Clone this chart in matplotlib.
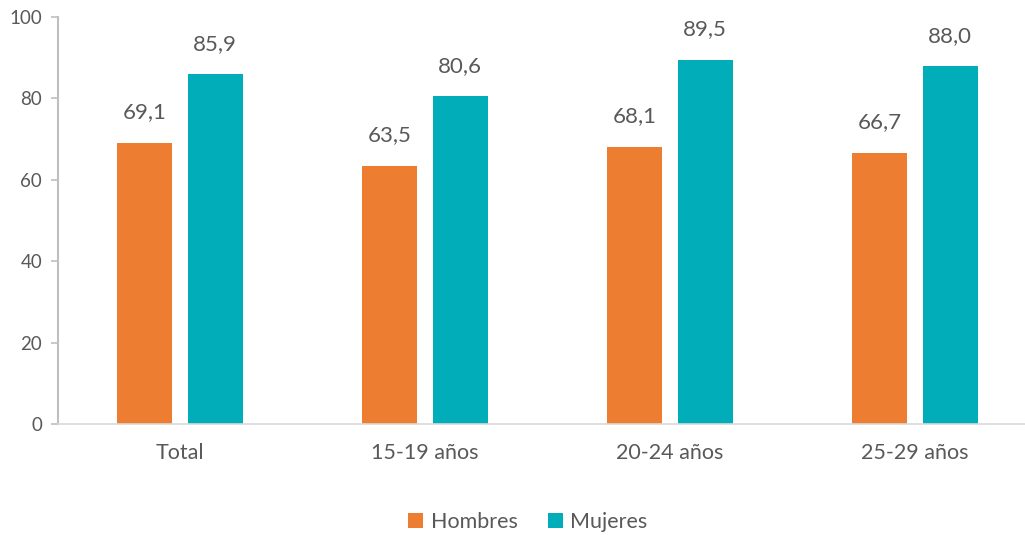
import matplotlib.pyplot as plt
import numpy as np

categories = ["Total", "15-19 años", "20-24 años", "25-29 años"]
hombres = [69.1, 63.5, 68.1, 66.7]
mujeres = [85.9, 80.6, 89.5, 88.0]

ORANGE = "#ED7D31"
TEAL = "#00ADB9"
TEXT = "#595959"
AXIS = "#BFBFBF"

plt.rcParams["font.family"] = ["Lato", "DejaVu Sans"]


def fmt(v):
    return f"{v:.1f}".replace(".", ",")


def main():
    fig = plt.figure(figsize=(10.25, 5.35), dpi=100)
    ax = fig.add_axes([0.0561, 0.2075, 0.956, 0.7605])

    x = np.arange(len(categories))
    w = 0.224
    off = 0.144
    b1 = ax.bar(x - off, hombres, w, color=ORANGE, label="Hombres")
    b2 = ax.bar(x + off, mujeres, w, color=TEAL, label="Mujeres")

    for bars, vals in ((b1, hombres), (b2, mujeres)):
        for rect, v in zip(bars, vals):
            ax.text(rect.get_x() + rect.get_width() / 2, v + 5.0, fmt(v),
                    ha="center", va="bottom", fontsize=16, color=TEXT)

    ax.set_xlim(-0.5, 3.5)
    ax.set_ylim(0, 100)
    ax.set_yticks(range(0, 101, 20))
    ax.set_xticks(x)
    ax.set_xticklabels(categories)
    ax.tick_params(axis="x", length=0, pad=14, labelsize=15.5, colors=TEXT)
    ax.tick_params(axis="y", length=5, width=1.2, color=AXIS, pad=6,
                   labelsize=13.5, labelcolor=TEXT)

    for s in ("top", "right"):
        ax.spines[s].set_visible(False)
    ax.spines["left"].set_color(AXIS)
    ax.spines["left"].set_linewidth(1.5)
    ax.spines["bottom"].set_color("#D9D9D9")
    ax.spines["bottom"].set_linewidth(1.2)

    leg = fig.legend(handles=[b1, b2], loc="center", bbox_to_anchor=(0.515, 0.024),
                     ncol=2, frameon=False, fontsize=15.5, handlelength=0.7,
                     handleheight=0.7, handletextpad=0.35, columnspacing=1.4)
    for t in leg.get_texts():
        t.set_color(TEXT)

    fig.savefig("out.png", dpi=100)


if __name__ == "__main__":
    main()
